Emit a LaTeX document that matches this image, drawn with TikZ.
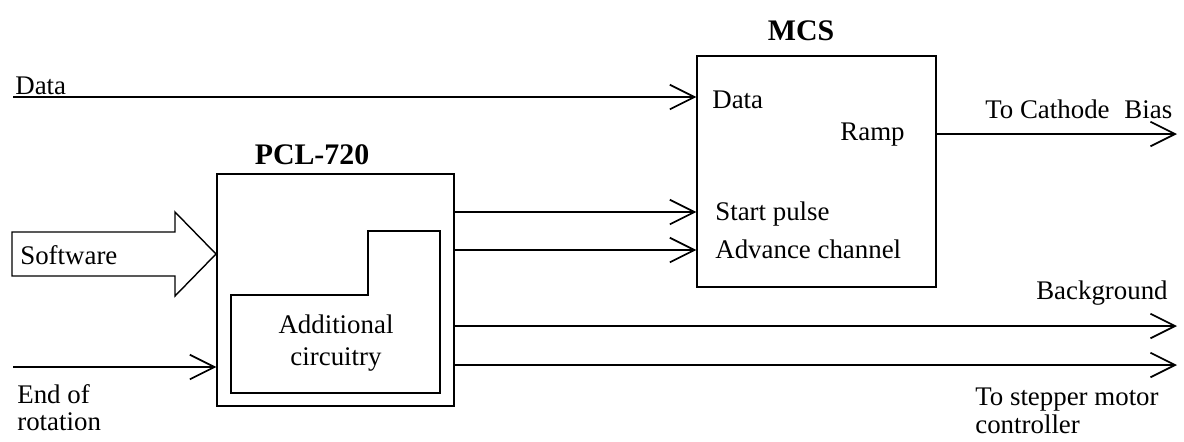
\documentclass[tikz,border=0pt]{standalone}
\usepackage{fontspec}
\setmainfont{Liberation Serif}
\usetikzlibrary{arrows.meta}
\begin{document}
\begin{tikzpicture}[x=0.02cm,y=-0.02cm,
  txt/.style={inner sep=0pt, font=\fontsize{15.3}{18}\selectfont},
  tight/.style={inner sep=0pt, font=\fontsize{15.3}{15.5}\selectfont},
  ttl/.style={inner sep=0pt, font=\fontsize{17}{20}\selectfont\bfseries},
  blk/.style={draw, line width=0.7pt, inner sep=0pt},
  arr/.style={line width=1pt, -{Straight Barb[length=14pt,width=14pt,line width=1pt]}}]
\path[use as bounding box] (0,0) rectangle (1184,441);

% blocks
\node[blk, minimum width=4.78cm, minimum height=4.62cm] (mcs) at (816.5,171.5) {};
\node[blk, minimum width=4.74cm, minimum height=4.64cm] (pcl) at (335.5,290) {};
\draw[line width=0.7pt] (231,295) -- (368,295) -- (368,231) -- (440,231) -- (440,393) -- (231,393) -- cycle;

% titles
\node[ttl, anchor=base] (mcst) at (801,40) {MCS};
\node[ttl, anchor=base] (pclt) at (312,164) {PCL-720};

% labels
\node[txt, anchor=base west] (ldata) at (15,94) {Data};
\node[txt, anchor=base west] (mdata) at (712,108) {Data};
\node[txt, anchor=base east] (mramp) at (905,140) {Ramp};
\node[txt, anchor=base west] (mstart) at (715,220) {Start pulse};
\node[txt, anchor=base west] (madv) at (715,258) {Advance channel};
\node[txt, anchor=base west] (lcath) at (985,118) {To Cathode\hspace{0.3em} Bias};
\node[txt, anchor=base west] (lsoft) at (20,264) {Software};
\node[txt, align=center] (ladd) at (336,343) {Additional\\circuitry};
\node[txt, anchor=base east] (lbg) at (1168,299) {Background};
\node[tight, align=left, anchor=north west] (lstep) at (975,388) {To stepper motor\\controller};
\node[tight, align=left, anchor=north west] (leor) at (17,384) {End of\\rotation};

% software arrow
\draw[line width=0.8pt] (12,232) -- (175,232) -- (175,212) -- (216,254) -- (175,296) -- (175,276) -- (12,276) -- cycle;

% connectors
\coordinate (dataS) at (13,97);
\draw[arr] (dataS) -- (dataS -| mcs.west);
\coordinate (eorS) at (13,367);
\draw[arr] (eorS) -- (eorS -| pcl.west);
\coordinate (startY) at (0,212);
\coordinate (advY) at (0,250);
\draw[arr] (pcl.east |- startY) -- (mcs.west |- startY);
\draw[arr] (pcl.east |- advY) -- (mcs.west |- advY);
\coordinate (rampE) at (1177,134);
\draw[arr] (mcs.east |- rampE) -- (rampE);
\coordinate (bgE) at (1177,326);
\draw[arr] (pcl.east |- bgE) -- (bgE);
\coordinate (stE) at (1177,365);
\draw[arr] (pcl.east |- stE) -- (stE);
\end{tikzpicture}
\end{document}
